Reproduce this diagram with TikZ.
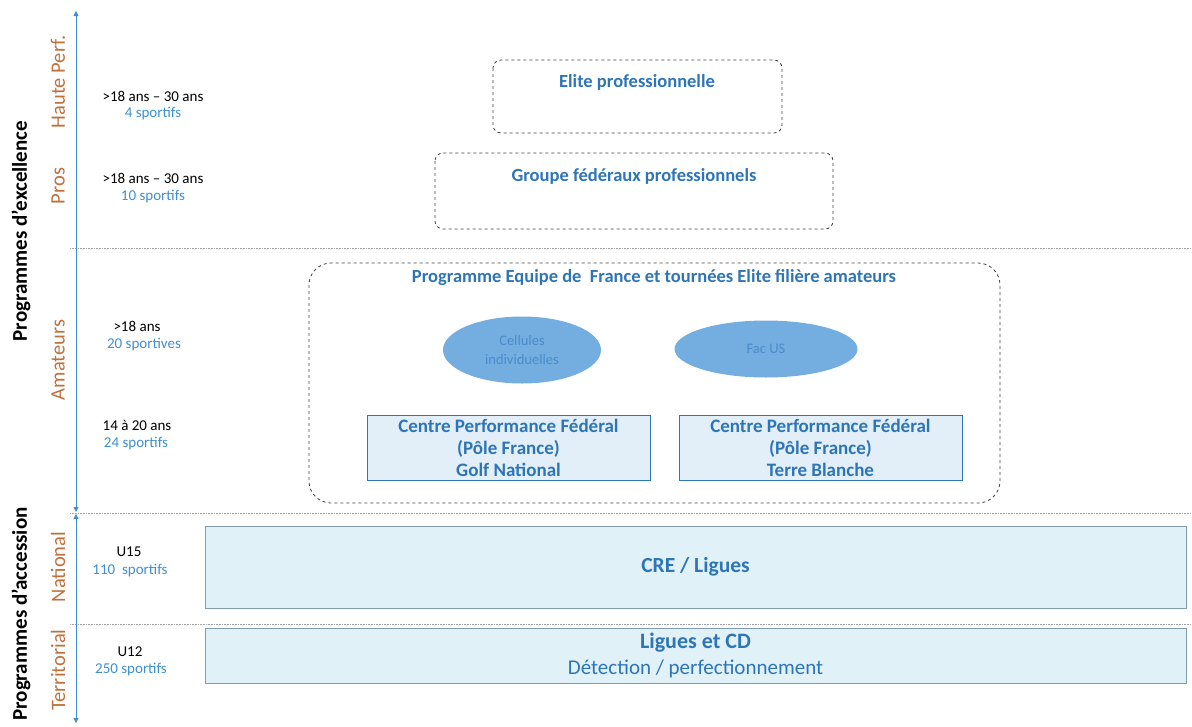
\documentclass[tikz,border=0pt]{standalone}
\usepackage{fontspec}
\setmainfont{Carlito}
\usetikzlibrary{shapes.geometric,arrows.meta}
\definecolor{tblue}{HTML}{2E75B6}
\definecolor{lblue}{HTML}{3F8FCF}
\definecolor{orng}{HTML}{C0703A}
\definecolor{ellfill}{HTML}{74AEE0}
\definecolor{elltext}{HTML}{4C8BCB}
\definecolor{cpfill}{HTML}{E2EEF8}
\definecolor{crefill}{HTML}{E1F1F8}
\definecolor{creborder}{HTML}{7E9DB4}
\begin{document}
\begin{tikzpicture}[x=1pt,y=-1pt,
  dashbox/.style={draw=black!75,dashed,rounded corners=8pt,line width=0.8pt},
  bt/.style={text=tblue,font=\bfseries\fontsize{18.5}{20}\selectfont},
  side/.style={rotate=90,text=orng,font=\fontsize{20.5}{22}\selectfont},
  outer/.style={rotate=90,font=\bfseries\fontsize{21}{23}\selectfont},
  age/.style={font=\fontsize{15}{17}\selectfont,align=center},
  cnt/.style={text=lblue,font=\fontsize{15}{17}\selectfont},
  axis/.style={draw=lblue,line width=0.8pt,{Triangle[length=5pt,width=5pt]}-{Triangle[length=5pt,width=5pt]}},
  sep/.style={draw=black!35,densely dotted,line width=0.6pt},
  cpbox/.style={draw=tblue,fill=cpfill,line width=0.8pt,minimum width=283pt,minimum height=65pt,inner sep=1pt,align=center,text=tblue,font=\bfseries\fontsize{19}{22}\selectfont},
  crebox/.style={draw=creborder,fill=crefill,line width=0.9pt,minimum width=981pt,align=center,text=tblue},
  ell/.style={ellipse,fill=ellfill,draw=none,align=center,text=elltext,font=\fontsize{14.5}{19}\selectfont}]
\useasboundingbox (0,0) rectangle (1192,726);
% separators
\draw[sep] (70,248) -- (1192,248);
\draw[sep] (70,513) -- (1192,513);
\draw[sep] (70,624) -- (1192,624);
% axes
\coordinate (a1t) at (76,11);
\coordinate (a1b) at (76,512);
\coordinate (a2t) at (76,514);
\coordinate (a2b) at (76,723);
\draw[axis] (a1t) -- (a1b);
\draw[axis] (a2t) -- (a2b);
% outer labels
\node[outer] (pe) at (21,231) {Programmes d’excellence};
\node[outer] (pa) at (21,614) {Programmes d’accession};
% side labels
\node[side] (hp) at (58,82) {Haute Perf.};
\node[side] (pr) at (58,186) {Pros};
\node[side] (am) at (58,360) {Amateurs};
\node[side] (na) at (58,567) {National};
\node[side] (te) at (58,670) {Territorial};
% ages and counts
\node[age] (g1) at (153,96) {>18 ans – 30 ans};
\node[cnt] (c1) at (153,114) {4 sportifs};
\node[age] (g2) at (153,178) {>18 ans – 30 ans};
\node[cnt] (c2) at (153,197) {10 sportifs};
\node[age] (g3) at (137,326) {>18 ans};
\node[cnt] (c3) at (144,345) {20 sportives};
\node[age] (g4) at (137,425) {14 à 20 ans};
\node[cnt] (c4) at (136,444) {24 sportifs};
\node[age] (g5) at (129,552) {U15};
\node[cnt] (c5) at (130,571) {110~ sportifs};
\node[age] (g6) at (130,652) {U12};
\node[cnt] (c6) at (131,670) {250 sportifs};
% dashed boxes
\draw[dashbox] (493,60) rectangle (782,133);
\node[bt] (elite) at (637,82) {Elite professionnelle};
\draw[dashbox] (435,153) rectangle (833,229);
\node[bt] (grp) at (634,176) {Groupe fédéraux professionnels};
\draw[dashbox,rounded corners=22pt] (309,263) rectangle (1000,503);
\node[bt] (prog) at (654,278) {Programme Equipe de~ France et tournées Elite filière amateurs};
% ellipses
\node[ell,minimum width=158pt,minimum height=67pt,inner sep=0pt] (cel) at (522,350) {Cellules\\individuelles};
\node[ell,minimum width=183pt,minimum height=57pt,inner sep=0pt] (fac) at (766,349) {Fac US};
% centre boxes
\node[cpbox] (cp1) at (508.5,448) {Centre Performance Fédéral\\(Pôle France)\\Golf National};
\node[cpbox] (cp2) at (820.5,448) {Centre Performance Fédéral\\(Pôle France)\\Terre Blanche};
% bottom boxes
\node[crebox,minimum height=82pt,font=\bfseries\fontsize{21.5}{24}\selectfont] (cre) at (695.5,567) {CRE / Ligues};
\node[crebox,minimum height=55pt,inner sep=0pt,font=\fontsize{21}{26}\selectfont] (lig) at (695.5,655.5) {\textbf{\fontsize{22}{26}\selectfont Ligues et CD}\\Détection / perfectionnement};
\end{tikzpicture}
\end{document}
